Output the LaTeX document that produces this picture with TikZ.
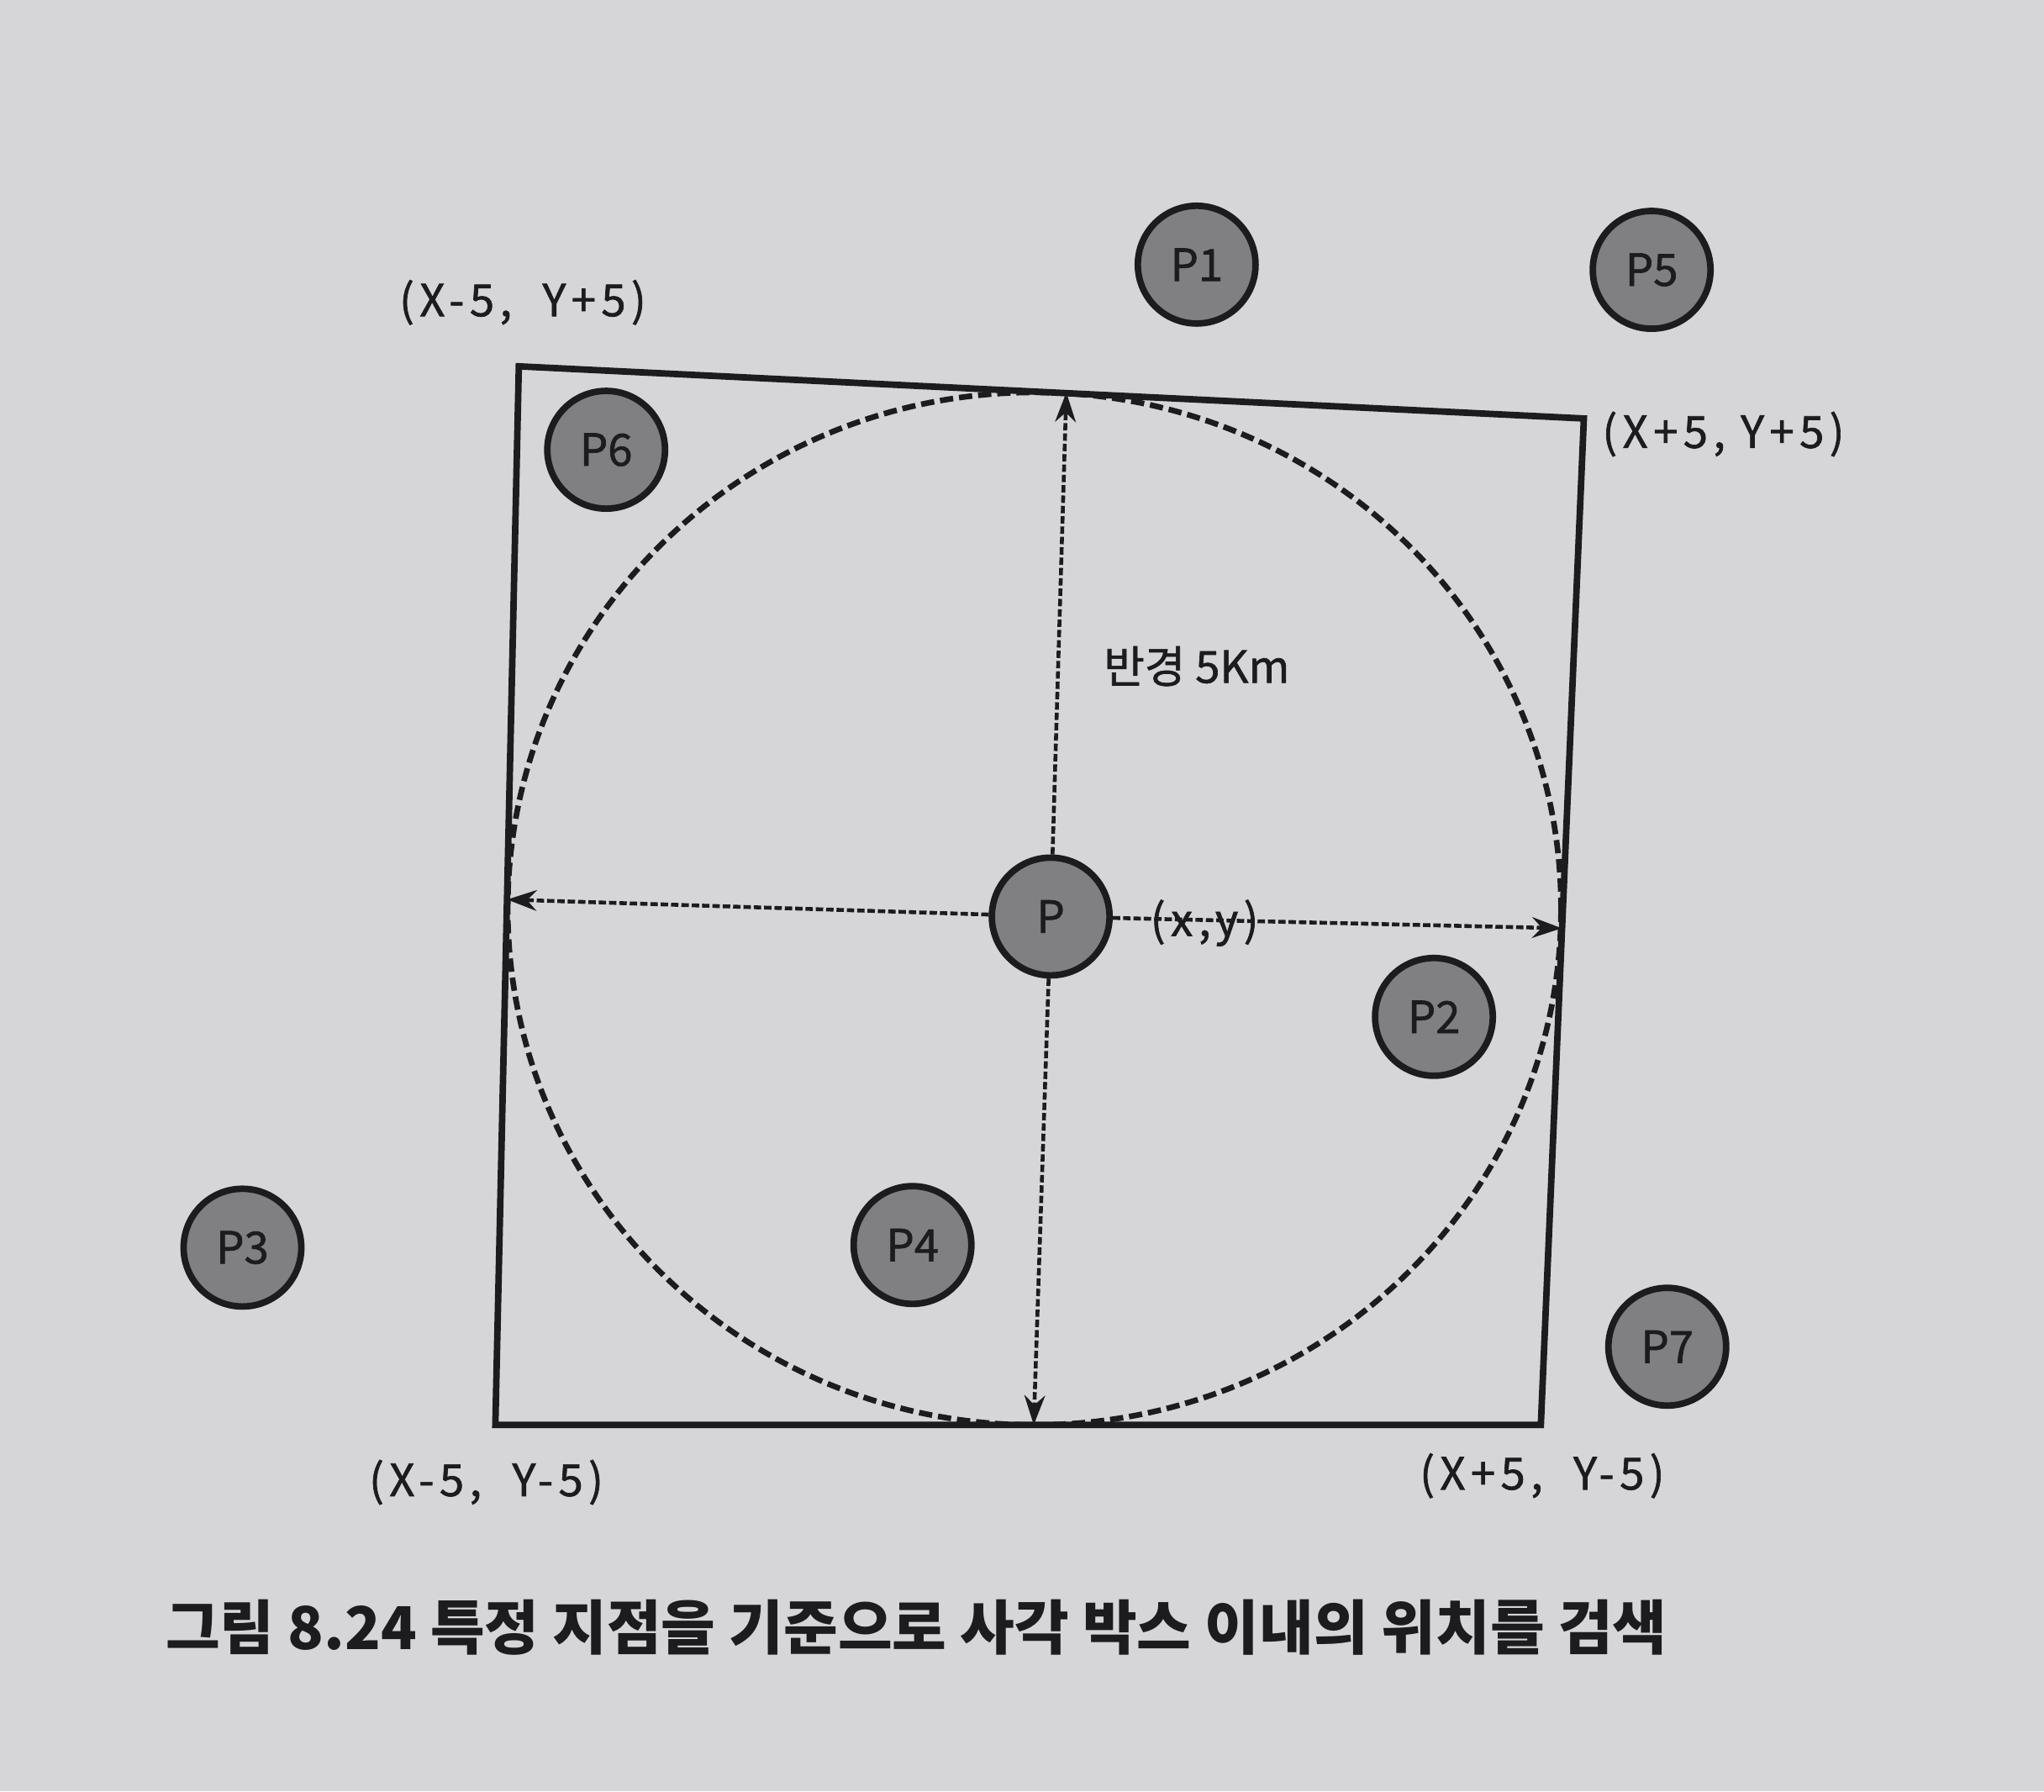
\documentclass[tikz,border=0pt]{standalone}
\usepackage{fontspec}
\setmainfont{Noto Sans CJK KR}
\newfontfamily\spacedfont[LetterSpace=12,FakeBold=1.2]{Noto Sans CJK KR}
\newfontfamily\labelfont[FakeBold=1.2]{Noto Sans CJK KR}
\usetikzlibrary{arrows.meta}
\definecolor{paper}{RGB}{214,214,216}
\definecolor{ptfill}{RGB}{128,128,130}
\definecolor{ink}{RGB}{28,28,30}
\tikzset{
  pt/.style={circle,draw=ink,line width=2.2pt,fill=ptfill,minimum size=1.4cm,inner sep=0pt},
  corner/.style={font=\fontsize{15}{18}\spacedfont},
  reach/.style={ink,line width=1.3pt,dash pattern=on 2.5pt off 1pt,-{Stealth[length=10pt,width=7pt]}},
}
\begin{document}
\begin{tikzpicture}[x=0.01551cm,y=-0.01551cm,every node/.style={text=ink,font=\fontsize{15}{18}\labelfont}]
\fill[paper] (0,0) rectangle (1568,1374);
\useasboundingbox (0,0) rectangle (1568,1374);
% search box
\coordinate (tl) at (398,281); \coordinate (tr) at (1215,321);
\coordinate (br) at (1182,1093); \coordinate (bl) at (380,1093);
\draw[ink,line width=2.2pt] (tl) -- (tr) -- (br) -- (bl) -- cycle;
% 5km circle
\draw[ink,line width=1.9pt,dash pattern=on 4.5pt off 2pt] (793.5,697) ellipse [x radius=404, y radius=396];
% centre and the other points
\node[pt] (P) at (806,703) {P};
\foreach \name/\x/\y in {P1/918/203,P5/1267/207,P6/465/345,P2/1100/780,P3/186/957,P4/700/955,P7/1279/1033}
  \node[pt] (\name) at (\x,\y) {\name};
% radius arrows
\coordinate (up) at (818,301); \coordinate (down) at (793,1093);
\coordinate (left) at (389,690); \coordinate (right) at (1198,712);
\foreach \e in {up,down,left,right}
  \draw[reach] (P) -- (\e);
\node[corner] (xy) at (924,708) {(x,y)};
\node (rad) at (918,511) {반경 5Km};
% corner labels
\node[corner] (lt) at (401,232) {(X-5,\ \ Y+5)};
\node[corner] (rt) at (1322,333) {(X+5,\ Y+5)};
\node[corner] (lb) at (373,1137) {(X-5,\ \ Y-5)};
\node[corner] (rb) at (1183,1132) {(X+5,\ \ Y-5)};
\node[font=\fontsize{20}{24}\selectfont\bfseries] (cap) at (703,1248) {그림 8.24 특정 지점을 기준으로 사각 박스 이내의 위치를 검색};
\end{tikzpicture}
\end{document}
